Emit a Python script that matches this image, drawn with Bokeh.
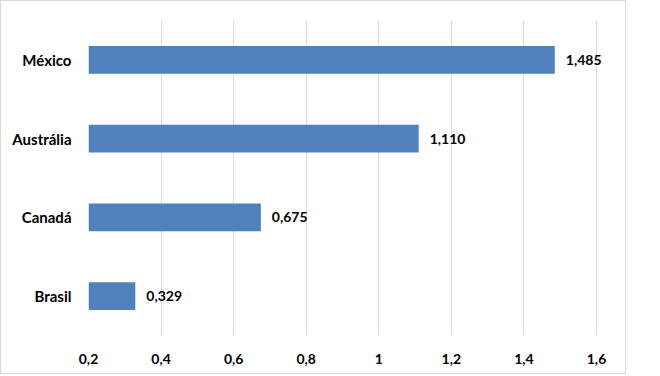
from bokeh.plotting import figure
from bokeh.models import ColumnDataSource, FactorRange, Range1d, FixedTicker, CustomJSTickFormatter, LabelSet
from bokeh.core.properties import value
from bokeh.embed import file_html
from bokeh.resources import INLINE

categories = ["Brasil", "Canadá", "Austrália", "México"]
values = [0.329, 0.675, 1.110, 1.485]
x_ticks = [0.2, 0.4, 0.6, 0.8, 1.0, 1.2, 1.4, 1.6]
baseline = 0.2

labels = [f"{v:.3f}".replace(".", ",") for v in values]

FONT = "Lato"

src = ColumnDataSource(dict(cat=categories, val=values, left=[baseline] * len(values), lab=labels))

# frame extends to the right edge so data labels are not clipped;
# the range end keeps the 0.2..1.6 scale at the reference's pixel positions
p = figure(width=626, height=374, output_backend="svg", toolbar_location=None,
           y_range=FactorRange(factors=categories, range_padding=0),
           x_range=Range1d(baseline, baseline + 1.4 * 539 / 508),
           min_border_left=87, min_border_right=0, min_border_top=19, min_border_bottom=40)
p.styles = {"border": "1px solid #d9d9d9"}
p.outline_line_color = None
p.background_fill_color = "white"
p.border_fill_color = "white"

p.hbar(y="cat", left="left", right="val", height=0.355, source=src,
       fill_color="#4F81BD", line_color=None)

p.add_layout(LabelSet(x="val", y="cat", text="lab", source=src, x_offset=11,
                      text_baseline="middle", text_align="left",
                      text_font=value(FONT), text_font_style="bold", text_font_size="14px",
                      text_color="black"))

p.xaxis.ticker = FixedTicker(ticks=x_ticks)
p.xaxis.formatter = CustomJSTickFormatter(code="return (Math.round(tick*10)/10).toString().replace('.', ',');")
p.xgrid.ticker = FixedTicker(ticks=x_ticks)
p.xgrid.grid_line_color = "#d9d9d9"
p.ygrid.grid_line_color = None

for ax in (p.xaxis, p.yaxis):
    ax.axis_line_color = None
    ax.major_tick_line_color = None
    ax.minor_tick_line_color = None
    ax.major_label_text_font = FONT
    ax.major_label_text_font_style = "bold"
    ax.major_label_text_color = "black"

p.xaxis.major_label_text_font_size = "14px"
p.yaxis.major_label_text_font_size = "15px"
p.xaxis.major_label_standoff = 12
p.yaxis.major_label_standoff = 11

open("out.html", "w").write(file_html(p, INLINE))
